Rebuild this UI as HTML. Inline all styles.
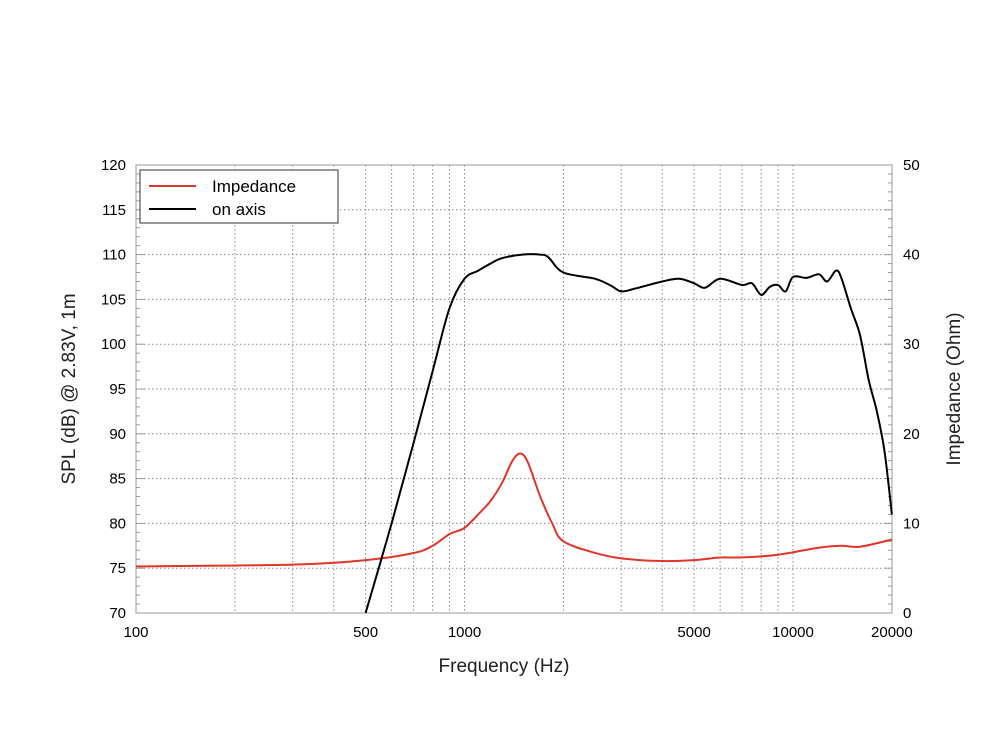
<!DOCTYPE html><html><head><style>body{margin:0;background:#fff}svg{display:block}text{font-family:"Liberation Sans",sans-serif}</style></head><body>
<svg id="s" width="1000" height="750" xmlns="http://www.w3.org/2000/svg"></svg>
<script>
const s=document.getElementById('s');let h='';
const X=f=>136+328.5*Math.log10(f/100), Y=d=>613-(d-70)*8.96, Yo=o=>613-o*8.96;
for(let d=75;d<120;d+=5)h+=`<line x1="136" x2="892" y1="${Y(d)}" y2="${Y(d)}" stroke="#888" stroke-dasharray="1.5,2.5"/>`;
[200,300,400,500,600,700,800,900,1000,2000,3000,4000,5000,6000,7000,8000,9000,10000].forEach(f=>h+=`<line y1="165" y2="613" x1="${X(f)}" x2="${X(f)}" stroke="#888" stroke-dasharray="1.5,2.5"/>`);
h+=`<rect x="136" y="165" width="756" height="448" fill="none" stroke="#999"/>`;
for(let d=70;d<=120;d++){let L=d%5?4:8;h+=`<line x1="136" x2="${136+L}" y1="${Y(d)}" y2="${Y(d)}" stroke="#999"/><line x1="892" x2="${892-L}" y1="${Y(d)}" y2="${Y(d)}" stroke="#999"/>`;}
for(let d=70;d<=120;d+=5)h+=`<text x="126" y="${Y(d)+5}" font-size="15" text-anchor="end">${d}</text>`;
for(let o=0;o<=50;o+=10)h+=`<text x="903" y="${Yo(o)+5}" font-size="15">${o}</text>`;
[[100,'100'],[500,'500'],[1000,'1000'],[5000,'5000'],[10000,'10000'],[20000,'20000']].forEach(([f,t])=>h+=`<text x="${X(f)}" y="637" font-size="15" text-anchor="middle">${t}</text>`);
h+=`<text x="504" y="672" font-size="19" text-anchor="middle" fill="#222">Frequency (Hz)</text>`;
h+=`<text transform="translate(75,389) rotate(-90)" font-size="19" text-anchor="middle" fill="#222">SPL (dB) @ 2.83V, 1m</text>`;
h+=`<text transform="translate(960,389) rotate(-90)" font-size="19" text-anchor="middle" fill="#222">Impedance (Ohm)</text>`;
const spl=[[500,70],[600,80],[700,89],[800,97],[900,104],[1000,107.3],[1100,108.2],[1200,109],[1300,109.6],[1500,110],[1700,110],[1800,109.7],[2000,108],[2500,107.3],[2800,106.5],[3000,105.9],[3300,106.2],[4000,107],[4500,107.3],[5000,106.8],[5400,106.3],[6000,107.3],[7000,106.6],[7500,106.8],[8000,105.5],[8500,106.4],[9000,106.6],[9500,105.9],[10000,107.5],[11000,107.4],[12000,107.8],[12700,107],[13500,108.2],[14000,107.5],[15000,104],[16000,101],[17000,96],[18000,92.5],[19000,88],[20000,81]];
const imp=[[100,5.2],[300,5.4],[500,5.9],[700,6.7],[800,7.5],[900,8.8],[1000,9.5],[1100,11],[1200,12.5],[1300,14.5],[1400,17],[1480,17.8],[1560,16.8],[1700,13],[1850,10],[2000,8],[2500,6.7],[3000,6.1],[4000,5.8],[5000,5.9],[6000,6.2],[7000,6.2],[9000,6.5],[12000,7.3],[14000,7.5],[16000,7.4],[20000,8.2]];
function path(p){let d=`M${p[0][0]},${p[0][1]}`;for(let i=0;i<p.length-1;i++){const a=p[i-1]||p[i],b=p[i],c=p[i+1],e=p[i+2]||c;d+=` C${b[0]+(c[0]-a[0])/6},${b[1]+(c[1]-a[1])/6} ${c[0]-(e[0]-b[0])/6},${c[1]-(e[1]-b[1])/6} ${c[0]},${c[1]}`;}return d;}
h+=`<path fill="none" stroke="#e0352b" stroke-width="2" d="${path(imp.map(p=>[X(p[0]),Yo(p[1])]))}"/>`;
h+=`<path fill="none" stroke="#000" stroke-width="2" d="${path(spl.map(p=>[X(p[0]),Y(p[1])]))}"/>`;
h+=`<rect x="140" y="170" width="198" height="53" fill="#fff" stroke="#333"/><line x1="149" x2="196" y1="186" y2="186" stroke="#e0352b" stroke-width="2"/><line x1="149" x2="196" y1="209" y2="209" stroke="#000" stroke-width="2"/><text x="212" y="192" font-size="17">Impedance</text><text x="212" y="215" font-size="17">on axis</text>`;
s.innerHTML=h;
</script></body></html>
